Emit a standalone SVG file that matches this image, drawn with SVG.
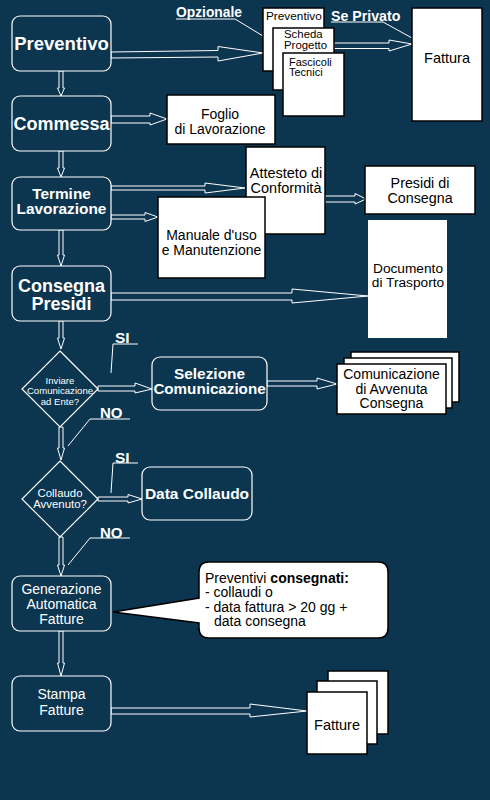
<svg xmlns="http://www.w3.org/2000/svg" width="490" height="800" viewBox="0 0 490 800">
<style>
.bg{fill:#0c3550}
.proc{fill:#0c3550;stroke:#fff;stroke-width:1.2}
.doc{fill:#fff;stroke:#000;stroke-width:1.5}
.docn{fill:#fff}
.arr{fill:#0c3550;stroke:#fff;stroke-width:1;stroke-linejoin:miter}
.ln{stroke:#fff;stroke-width:1;fill:none}
text{font-family:"Liberation Sans",Arial,sans-serif}
.wb{fill:#fff;font-weight:bold;text-anchor:middle}
.wr{fill:#fff;text-anchor:middle}
.bk{fill:#000;text-anchor:middle}
.bks{fill:#000}
.lbl{fill:#fff;font-weight:bold}
</style>
<rect class="bg" x="0" y="0" width="490" height="800"/>

<g id="connectors">
<!-- horizontal arrows -->
<polygon class="arr" points="111,52 218,50.5 218,46.5 263,53 218,61 218,57 111,58"/>
<polygon class="arr" points="334,43 389,43 389,40 412,44 389,51 389,48.5 334,48.5"/>
<polygon class="arr" points="111,116 150,116 150,113 167,119 150,125 150,123 111,123"/>
<polygon class="arr" points="111,186 205,186 205,183 245,188 205,193 205,190 111,190"/>
<polygon class="arr" points="111,215 145,215 145,212.5 158,217 145,221.5 145,219 111,219"/>
<polygon class="arr" points="325,196 355,196 355,193.5 366,199 355,204 355,202 325,202"/>
<polygon class="arr" points="111,293 292,293 292,289 368,296 292,303 292,300 111,300"/>
<polygon class="arr" points="98,386 135,386 135,383 152,389 135,393 135,391 98,391"/>
<polygon class="arr" points="267,381 317,381 317,378 337,384 317,389 317,386 267,386"/>
<polygon class="arr" points="98,497 128,497 128,494.5 142,499 128,503 128,501 98,501"/>
<polygon class="arr" points="111,708 250,708 250,704 307,711 250,717 250,714 111,714"/>
<!-- vertical arrows -->
<polygon class="arr" points="59,71 59,88 57.5,88 61,96 64.5,88 63,88 63,71"/>
<polygon class="arr" points="59,151 59,168 57.5,168 61,177 64.5,168 63,168 63,151"/>
<polygon class="arr" points="59,230 59,255 57.5,255 61,266 64.5,255 63,255 63,230"/>
<polygon class="arr" points="59,321 59,338 57.5,338 61,349 64.5,338 63,338 63,321"/>
<polygon class="arr" points="59,427 59,448 57.5,448 61,460 64.5,448 63,448 63,427"/>
<polygon class="arr" points="59,537 59,565 57.5,565 61,576 64.5,565 63,565 63,537"/>
<polygon class="arr" points="59,631 59,663 57.5,663 61,676 64.5,663 63,663 63,631"/>
<!-- label leaders -->
<polyline class="ln" points="263,36 235,19 176,19"/>
<polyline class="ln" points="412,38 383,22 331,22"/>
<polyline class="ln" points="111,373 113,344 138,344"/>
<polyline class="ln" points="68,446 90,419 130,419"/>
<polyline class="ln" points="111,493 113,463 138,463"/>
<polyline class="ln" points="68,565 90,538 130,538"/>
</g>

<g id="preventivo"><rect class="proc" x="12" y="16" width="99" height="55" rx="8"/><text class="wb" x="61.5" y="50" font-size="18.5">Preventivo</text></g>
<g id="commessa"><rect class="proc" x="12" y="96" width="99" height="55" rx="8"/><text class="wb" x="61.5" y="130" font-size="18">Commessa</text></g>
<g id="termine"><rect class="proc" x="12" y="177" width="99" height="53" rx="8"/><text class="wb" x="61.5" y="199" font-size="15.4">Termine</text><text class="wb" x="61.5" y="213.5" font-size="15.4">Lavorazione</text></g>
<g id="consegna"><rect class="proc" x="12" y="266" width="99" height="55" rx="8"/><text class="wb" x="61.5" y="292" font-size="18">Consegna</text><text class="wb" x="61.5" y="310" font-size="18">Presidi</text></g>

<g id="dec1"><polygon class="proc" points="60,351 98,389 60,427 22,389"/><text class="wr" x="60" y="383.5" font-size="9.6">Inviare</text><text class="wr" x="60" y="394" font-size="9.6">Comunicazione</text><text class="wr" x="60" y="404.5" font-size="9.6">ad Ente?</text></g>
<g id="dec2"><polygon class="proc" points="60,461 98,499 60,537 22,499"/><text class="wr" x="60" y="497" font-size="11.4">Collaudo</text><text class="wr" x="60" y="508" font-size="11.4">Avvenuto?</text></g>

<g id="selezione"><rect class="proc" x="152" y="357" width="115" height="53" rx="8"/><text class="wb" x="209.5" y="378.5" font-size="15.4">Selezione</text><text class="wb" x="209.5" y="394" font-size="15.2">Comunicazione</text></g>
<g id="datacollaudo"><rect class="proc" x="142" y="467" width="110" height="53" rx="8"/><text class="wb" x="197" y="499" font-size="15.5">Data Collaudo</text></g>
<g id="generazione"><rect class="proc" x="12" y="576" width="99" height="55" rx="8"/><text class="wr" x="61.5" y="594" font-size="14">Generazione</text><text class="wr" x="61.5" y="609" font-size="14">Automatica</text><text class="wr" x="61.5" y="624" font-size="14">Fatture</text></g>
<g id="stampa"><rect class="proc" x="12" y="676" width="99" height="55" rx="8"/><text class="wr" x="61.5" y="699" font-size="14">Stampa</text><text class="wr" x="61.5" y="715" font-size="14">Fatture</text></g>

<g id="doc-preventivo"><rect class="doc" x="263" y="8" width="61" height="63"/><text class="bks" x="266" y="19.5" font-size="11.8">Preventivo</text></g>
<g id="doc-scheda"><rect class="doc" x="273" y="28" width="61" height="62"/><text class="bks" x="284" y="37.5" font-size="11.4">Scheda</text><text class="bks" x="284" y="48.5" font-size="11.4">Progetto</text></g>
<g id="doc-fascicoli"><rect class="doc" x="283" y="53" width="61" height="63"/><text class="bks" x="289" y="66" font-size="11">Fascicoli</text><text class="bks" x="289" y="76" font-size="11">Tecnici</text></g>
<g id="doc-fattura"><rect class="doc" x="412" y="8" width="70" height="113"/><text class="bk" x="447" y="62.5" font-size="14.5">Fattura</text></g>
<g id="doc-foglio"><rect class="doc" x="167" y="95" width="108" height="49"/><text class="bk" x="220" y="118.5" font-size="14">Foglio</text><text class="bk" x="220" y="134" font-size="14">di Lavorazione</text></g>
<g id="doc-attesteto"><rect class="doc" x="246" y="147" width="79" height="87"/><text class="bk" x="286" y="178" font-size="14.5">Attesteto di</text><text class="bk" x="286" y="193" font-size="14.5">Conformità</text></g>
<g id="doc-manuale"><rect class="doc" x="158" y="197" width="107" height="81"/><text class="bk" x="211.5" y="240" font-size="14">Manuale d'uso</text><text class="bk" x="211.5" y="254.5" font-size="14">e Manutenzione</text></g>
<g id="doc-presidi"><rect class="doc" x="365" y="166" width="110" height="48"/><text class="bk" x="420" y="188" font-size="14.3">Presidi di</text><text class="bk" x="420" y="202.5" font-size="14.3">Consegna</text></g>
<g id="doc-documento"><rect class="docn" x="368" y="220" width="79" height="118"/><text class="bk" x="408" y="273" font-size="13.7">Documento</text><text class="bk" x="408" y="286.5" font-size="13.7">di Trasporto</text></g>
<g id="doc-comunicazione">
<rect class="doc" x="351" y="352" width="108" height="50"/>
<rect class="doc" x="344" y="358" width="108" height="50"/>
<rect class="doc" x="337" y="364" width="109" height="50"/>
<text class="bk" x="391.5" y="379" font-size="14">Comunicazione</text><text class="bk" x="391.5" y="394" font-size="14">di Avvenuta</text><text class="bk" x="391.5" y="408" font-size="14">Consegna</text></g>
<g id="doc-fatture">
<rect class="doc" x="328" y="671" width="60" height="63"/>
<rect class="doc" x="317" y="681" width="60" height="63"/>
<rect class="doc" x="307" y="692" width="60" height="62"/>
<text class="bk" x="337" y="729.5" font-size="14.5">Fatture</text></g>

<g id="callout">
<path d="M199,598 L199,572 Q199,562 209,562 L378,562 Q388,562 388,572 L388,628 Q388,638 378,638 L209,638 Q199,638 199,628 L199,623 L113,612 Z" fill="#fff" stroke="#000" stroke-width="1.5"/>
<text class="bks" x="205" y="583" font-size="14">Preventivi <tspan font-weight="bold">consegnati:</tspan></text>
<text class="bks" x="205" y="597" font-size="14">- collaudi o</text>
<text class="bks" x="205" y="611.5" font-size="14">- data fattura &gt; 20 gg +</text>
<text class="bks" x="214" y="625.5" font-size="14">data consegna</text>
</g>

<g id="labels">
<text class="lbl" x="176" y="17" font-size="13.8">Opzionale</text>
<text class="lbl" x="331" y="20.5" font-size="14.2">Se Privato</text>
<text class="lbl" x="115" y="342.5" font-size="15.5">SI</text>
<text class="lbl" x="100" y="418" font-size="15">NO</text>
<text class="lbl" x="115" y="462.5" font-size="15.5">SI</text>
<text class="lbl" x="100" y="537.5" font-size="15">NO</text>
</g>
</svg>
